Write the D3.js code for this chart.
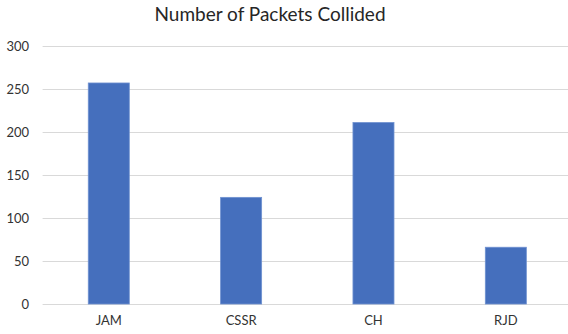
<!DOCTYPE html>
<html>
<head>
<meta charset="UTF-8">
<title>Number of Packets Collided</title>
<script src="https://cdn.jsdelivr.net/npm/d3@7"></script>
<style>
  body { margin: 0; background: #fff; }
  svg { display: block; font-family: Lato, "Open Sans", sans-serif; }
</style>
</head>
<body>
<div id="chart"></div>
<script>
const categories = ["JAM", "CSSR", "CH", "RJD"];
const packets = [257, 124, 211, 66];
const yTicks = [0, 50, 100, 150, 200, 250, 300];

const w = 568, h = 334;
const plotLeft = 42.6, plotRight = 572, plotTop = 46, plotBottom = 304;

const svg = d3.select("#chart").append("svg")
  .attr("width", w)
  .attr("height", h);

const x = d3.scaleBand()
  .domain(categories)
  .range([plotLeft, plotRight])
  .paddingInner(0.69)
  .paddingOuter(0.345);

const y = d3.scaleLinear()
  .domain([0, 300])
  .range([plotBottom, plotTop]);

// gridlines
svg.append("g")
  .selectAll("line")
  .data(yTicks)
  .join("line")
  .attr("x1", plotLeft)
  .attr("x2", w)
  .attr("y1", d => y(d) + 0.5)
  .attr("y2", d => y(d) + 0.5)
  .attr("stroke", "#d9d9d9")
  .attr("stroke-width", 1);

// y axis labels
const yAxis = d3.axisLeft(y).tickValues(yTicks).tickSize(0).tickPadding(0);
svg.append("g")
  .attr("transform", `translate(29,0)`)
  .call(yAxis)
  .call(g => g.select(".domain").remove())
  .selectAll("text")
  .attr("fill", "#333")
  .style("font-size", "13px")
  .style("font-family", "Lato, 'Open Sans', sans-serif");

// bars
svg.append("g")
  .selectAll("rect")
  .data(categories)
  .join("rect")
  .attr("x", d => x(d))
  .attr("width", x.bandwidth())
  .attr("y", (d, i) => y(packets[i]))
  .attr("height", (d, i) => y(0) - y(packets[i]))
  .attr("fill", "#456fbd")
  .attr("stroke", "#6f91d0")
  .attr("stroke-width", 0.8);

// x axis labels
const xAxis = d3.axisBottom(x).tickSize(0).tickPadding(0);
svg.append("g")
  .attr("transform", `translate(0,${plotBottom + 12})`)
  .call(xAxis)
  .call(g => g.select(".domain").remove())
  .selectAll("text")
  .attr("fill", "#333")
  .style("font-size", "13px")
  .style("font-family", "Lato, 'Open Sans', sans-serif");

// title
svg.append("text")
  .text("Number of Packets Collided")
  .attr("x", 270)
  .attr("y", 21)
  .attr("text-anchor", "middle")
  .attr("fill", "#262626")
  .style("font-size", "19px");
</script>
</body>
</html>
